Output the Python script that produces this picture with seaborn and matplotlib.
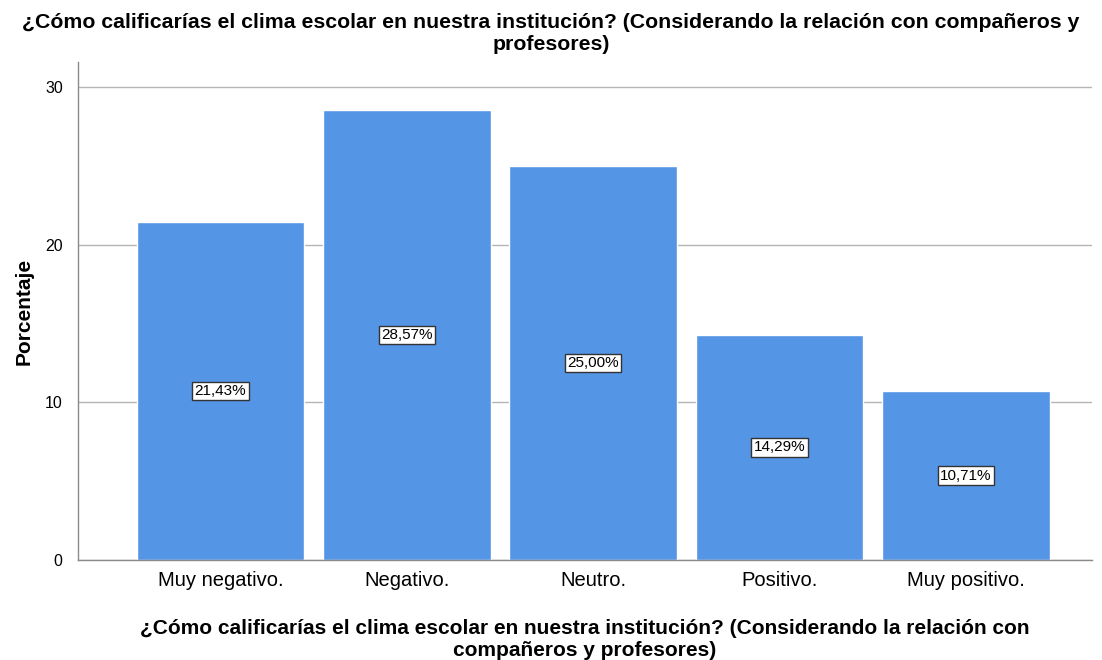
import pandas as pd
import matplotlib
matplotlib.use("Agg")
import matplotlib.pyplot as plt
import seaborn as sns

# datos
categorias = ["Muy negativo.", "Negativo.", "Neutro.", "Positivo.", "Muy positivo."]
porcentajes = [21.43, 28.57, 25.00, 14.29, 10.71]
etiquetas = ["21,43%", "28,57%", "25,00%", "14,29%", "10,71%"]
titulo = "¿Cómo calificarías el clima escolar en nuestra institución? (Considerando la relación con compañeros y\nprofesores)"
titulo_x = "¿Cómo calificarías el clima escolar en nuestra institución? (Considerando la relación con\ncompañeros y profesores)"

datos = pd.DataFrame({"categoria": categorias, "porcentaje": porcentajes})

sns.set_style("white")
plt.rcParams["font.family"] = ["Liberation Sans", "DejaVu Sans"]
plt.rcParams["text.color"] = "black"
plt.rcParams["axes.labelcolor"] = "black"

fig = plt.figure(figsize=(11.02, 6.6), dpi=100)
ax = fig.add_axes([0.0708, 0.1515, 0.9202, 0.7545])

sns.barplot(data=datos, x="categoria", y="porcentaje", color="#5495e5",
            width=0.9, saturation=1, ax=ax, zorder=2)

ax.set_ylim(0, 31.6)
ax.set_xlim(-0.765, 4.678)
ax.set_yticks([0, 10, 20, 30])
ax.yaxis.grid(True, color="#b5b5b5", linewidth=1, zorder=0)
ax.set_axisbelow(True)

for s in ["top", "right"]:
    ax.spines[s].set_visible(False)
for s in ["left", "bottom"]:
    ax.spines[s].set_color("#8a8a8a")
    ax.spines[s].set_linewidth(1)

ax.tick_params(axis="x", labelsize=14.5, colors="black", length=0, pad=8)
ax.tick_params(axis="y", labelsize=11.5, colors="black", length=3, width=1, direction="out", pad=8)
ax.tick_params(axis="y", color="#8a8a8a")

# etiquetas de porcentaje en el centro de cada barra
for i, (v, t) in enumerate(zip(porcentajes, etiquetas)):
    ax.text(i, v / 2, t, ha="center", va="center", fontsize=11, color="black", zorder=3,
            bbox=dict(boxstyle="square,pad=0.15", facecolor="white", edgecolor="#333333", linewidth=1))

ax.set_ylabel("Porcentaje", fontsize=15, fontweight="bold", labelpad=8)
ax.set_xlabel(titulo_x, fontsize=15, fontweight="bold", labelpad=21, linespacing=1.15)
fig.suptitle(titulo, fontsize=15.3, fontweight="bold", y=0.98, linespacing=1.2)

fig.savefig("out.png", dpi=100)
